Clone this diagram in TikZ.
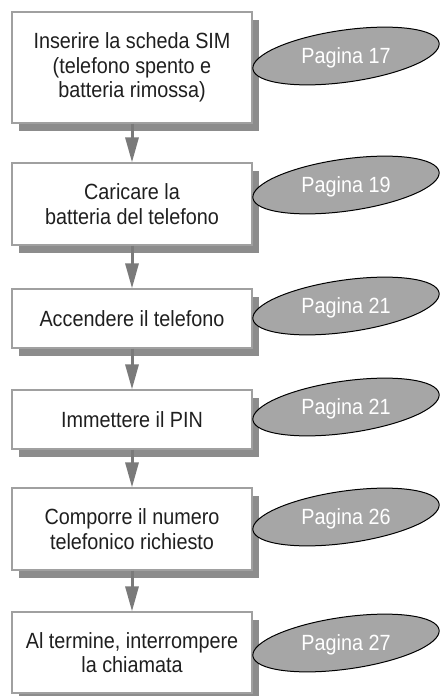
\documentclass[tikz,border=0pt]{standalone}
\usepackage{fontspec}
\usepackage{tikz}
\usetikzlibrary{positioning,shadows,arrows.meta}
\newfontfamily\narrowsans[FakeStretch=0.9]{Liberation Sans}
\definecolor{boxline}{HTML}{A0A0A0}
\definecolor{shade}{HTML}{8C8C8C}
\definecolor{flowgray}{HTML}{7A7A7A}
\definecolor{ovalfill}{HTML}{A6A6A6}
\tikzstyle{stepbox} = [draw=boxline, line width=1.1pt, fill=white, minimum width=240pt,
  align=center, text=black!88, font=\narrowsans\fontsize{22}{24.5}\selectfont,
  drop shadow={shadow xshift=7pt, shadow yshift=-8pt, opacity=1, fill=shade}]
\tikzstyle{oval} = [draw=black, line width=1pt, fill=ovalfill]
\tikzstyle{pagelabel} = [text=white, font=\narrowsans\fontsize{22}{24}\selectfont]
\tikzstyle{flow} = [draw=flowgray, line width=3pt, -{Triangle[length=25pt, width=13pt]}]

\begin{document}
\begin{tikzpicture}[x=1pt, y=-1pt]
			\useasboundingbox (0,0) rectangle (440,696);
			\node[stepbox, minimum height=111pt] (sim) at (132, 67.5) {Inserire la scheda SIM\\(telefono spento e\\batteria rimossa)};
			\node[stepbox, minimum height=82pt] (carica) at (132, 204) {Caricare la\\batteria del telefono};
			\node[stepbox, minimum height=59pt] (accendi) at (132, 318.5) {Accendere il telefono};
			\node[stepbox, minimum height=59pt] (pin) at (132, 419.5) {Immettere il PIN};
			\node[stepbox, minimum height=82pt] (numero) at (132, 529) {Comporre il numero\\telefonico richiesto};
			\node[stepbox, minimum height=81pt] (fine) at (132, 652.5) {Al termine, interrompere\\la chiamata};
			% ovali con il numero di pagina
			\draw[oval, rotate around={8:(346,56)}] (346,56) ellipse (94 and 26);
			\node[pagelabel] (p17) at (346,58) {Pagina 17};
			\draw[oval, rotate around={8:(346,185)}] (346,185) ellipse (94 and 26);
			\node[pagelabel] (p19) at (346,187) {Pagina 19};
			\draw[oval, rotate around={8:(346,306)}] (346,306) ellipse (94 and 26);
			\node[pagelabel] (p21a) at (346,308) {Pagina 21};
			\draw[oval, rotate around={8:(346,407)}] (346,407) ellipse (94 and 26);
			\node[pagelabel] (p21b) at (346,409) {Pagina 21};
			\draw[oval, rotate around={8:(346,517)}] (346,517) ellipse (94 and 26);
			\node[pagelabel] (p26) at (346,519) {Pagina 26};
			\draw[oval, rotate around={8:(346,643)}] (346,643) ellipse (94 and 26);
			\node[pagelabel] (p27) at (346,645) {Pagina 27};
			% frecce
			\draw[flow] (sim) -- (carica);
			\draw[flow] (carica) -- (accendi);
			\draw[flow] (accendi) -- (pin);
			\draw[flow] (pin) -- (numero);
			\draw[flow] (numero) -- (fine);
		\end{tikzpicture}
\end{document}
